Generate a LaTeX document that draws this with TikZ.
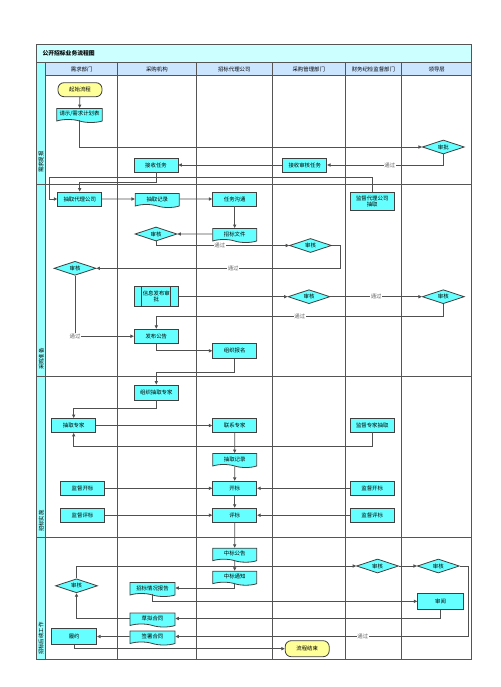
\documentclass[tikz,border=0pt]{standalone}
\usepackage{fontspec}
\setmainfont{Noto Sans CJK SC}
\usetikzlibrary{arrows.meta,positioning,shapes.geometric,shapes.symbols}
\definecolor{nodecyan}{HTML}{66FFFF}
\definecolor{termyellow}{HTML}{FFFF99}
\definecolor{edge}{HTML}{404040}
\definecolor{linegray}{HTML}{505050}
\definecolor{lanegray}{HTML}{555555}
\definecolor{titlefill}{HTML}{CCFFFF}
\definecolor{headfill}{HTML}{CCE5FF}
\definecolor{phasefill}{HTML}{99FFFF}
\definecolor{labelgray}{HTML}{666666}

\begin{document}
\begin{tikzpicture}[x=1pt,y=-1pt,font=\fontsize{5.4}{6.2}\selectfont,
box/.style={draw=edge,fill=nodecyan,minimum width=44pt,minimum height=14pt,inner sep=1pt,align=center,line width=0.8pt},
doc/.style={tape,tape bend top=none,tape bend bottom=out and in,tape bend height=3pt,draw=edge,fill=nodecyan,minimum width=44pt,minimum height=14pt,inner sep=1pt,line width=0.8pt},
dec/.style={diamond,aspect=3,draw=edge,fill=nodecyan,minimum width=42pt,minimum height=14pt,inner sep=0pt,line width=0.8pt},
term/.style={draw=edge,fill=termyellow,rounded corners=6pt,minimum width=44pt,minimum height=14pt,line width=0.8pt},
subproc/.style={box,minimum height=20pt,path picture={\draw[edge,line width=0.8pt] ([xshift=7.5pt]path picture bounding box.north west)--([xshift=7.5pt]path picture bounding box.south west) ([xshift=-7.5pt]path picture bounding box.north east)--([xshift=-7.5pt]path picture bounding box.south east);}},
arr/.style={-{Triangle[length=3.5pt,width=3.2pt]},draw=linegray,line width=0.85pt},
lbl/.style={fill=white,inner sep=0.5pt,text=labelgray},
lane/.style={draw=lanegray,line width=0.9pt}]
\useasboundingbox[fill=white] (0,0) rectangle (500,687);
\draw[lane,fill=titlefill] (36.7,44) rectangle (471.7,62.7);
\draw[lane,fill=phasefill] (36.7,62.7) rectangle (45.7,659);
\draw[lane,fill=headfill] (45.7,62.7) rectangle (471.7,75.3);
\draw[lane] (45.7,75.3) rectangle (471.7,659);
\foreach \x in {117.7,196,272.5,345,401.7} \draw[lane] (\x,62.7) -- (\x,659);
\foreach \y in {184,376,537} \draw[lane] (36.7,\y) -- (471.7,\y);
\node[anchor=west,font=\fontsize{5.8}{7}\selectfont\bfseries] (title) at (39,53.3) {公开招标业务流程图};
\node (h1) at (81.7,69) {需求部门};
\node (h2) at (156.85,69) {采购机构};
\node (h3) at (234.25,69) {招标代理公司};
\node (h4) at (308.75,69) {采购管理部门};
\node (h5) at (373.35,69) {财务纪检监督部门};
\node (h6) at (436.7,69) {领导层};
\node[rotate=90,anchor=west,inner sep=1pt] (p1) at (41.2,174) {需求提报};
\node[rotate=90,anchor=west,inner sep=1pt] (p2) at (41.2,371) {采购准备};
\node[rotate=90,anchor=west,inner sep=1pt] (p3) at (41.2,533) {招标实施};
\node[rotate=90,anchor=west,inner sep=1pt] (p4) at (41.2,656) {招标后续工作};

\node[term] (start) at (80,89.7) {起始流程};
\node[doc,minimum width=45.6pt] (plan) at (79.5,114) {请示/需求计划表};
\node[dec] (approve) at (443.3,147) {审批};
\node[box] (recvTask) at (156,165) {接收任务};
\node[box] (recvAudit) at (304.7,165) {接收审核任务};
\node[box] (pickAgent) at (79.7,199) {抽取代理公司};
\node[doc] (pickRec) at (157.3,199) {抽取记录};
\node[box] (taskComm) at (234.7,199) {任务沟通};
\node[box,minimum height=17.3pt] (supAgent) at (372.2,201.3) {监督代理公司\\抽取};
\node[doc] (bidDoc) at (234.7,234) {招标文件};
\node[dec] (chk1) at (156,234) {审核};
\node[dec] (chk2) at (310.5,245.5) {审核};
\node[dec] (chk3) at (75,268.3) {审核};
\node[subproc] (infoApp) at (156.3,296.7) {信息发布审\\批};
\node[dec] (chk4) at (309,296.7) {审核};
\node[dec] (chk5) at (443.3,296.7) {审核};
\node[box] (publish) at (156.3,336.2) {发布公告};
\node[box,minimum height=15pt] (signup) at (234.7,350.8) {组织报名};
\node[box,minimum height=15pt] (orgExp) at (156.3,392.5) {组织抽取专家};
\node[box] (pickExp) at (73.7,425.5) {抽取专家};
\node[box] (callExp) at (234.7,425.5) {联系专家};
\node[box] (supExp) at (372.2,425) {监督专家抽取};
\node[doc] (expRec) at (234.7,459) {抽取记录};
\node[box] (open) at (234.7,488.3) {开标};
\node[box] (supOpenL) at (82.5,488.3) {监督开标};
\node[box] (supOpenR) at (372.2,488.3) {监督开标};
\node[box] (eval) at (234.7,515.2) {评标};
\node[box] (supEvalL) at (82.5,515.2) {监督评标};
\node[box] (supEvalR) at (372.2,515.2) {监督评标};
\node[doc] (winPub) at (234.7,553.7) {中标公告};
\node[doc] (winNote) at (234.7,576.7) {中标通知};
\node[dec] (chk6) at (76.5,585.8) {审核};
\node[doc,minimum width=45pt] (report) at (152.5,588) {招标情况报告};
\node[dec] (chk7) at (377.5,566) {审核};
\node[dec] (chk8) at (438.3,566) {审核};
\node[box,minimum width=45.6pt,minimum height=16pt] (review) at (440.5,601.3) {审阅};
\node[doc,minimum width=45pt] (draft) at (152.5,618.5) {草拟合同};
\node[doc,minimum width=45pt] (sign) at (152.5,636.5) {签署合同};
\node[box,minimum width=45pt,minimum height=16pt] (perform) at (74.2,636.5) {履约};
\node[term,minimum height=16pt] (end) at (307.2,648.7) {流程结束};
\coordinate (j1) at (49,177.5);
\coordinate (j2) at (340.7,268.3);
\coordinate (j3) at (468.3,636.5);

\draw[arr] (start) -- (plan);
\draw[arr] (plan.south) |- (approve.west);
\draw[arr] (approve.south) |- node[lbl,pos=0.73]{通过} (recvAudit.east);
\draw[arr] (recvAudit) -- (recvTask);
\draw[arr] (recvTask.south) -- ++(0,10) -| (pickAgent.north);
\draw[arr] (supAgent.north) |- (j1) |- (pickAgent.west);
\draw[arr] (pickAgent) -- (pickRec);
\draw[arr] (pickRec) -- (taskComm);
\draw[arr] (taskComm) -- (bidDoc);
\draw[arr] (bidDoc) -- (chk1);
\draw[arr] (chk1.south) |- node[lbl,pos=0.74]{通过} (chk2.west);
\draw[arr] (chk2.east) -| (j2) -- node[lbl,pos=0.44]{通过} (chk3.east);
\draw[arr] (chk3.south) |- node[lbl,pos=0.5]{通过} (publish.west);
\draw[arr] (infoApp) -- (chk4);
\draw[arr] (chk4) -- node[lbl]{通过} (chk5);
\draw[arr] (chk5.south) -- ++(0,12.7) -| node[lbl,pos=0.25]{通过} (publish.north);
\draw[arr] (publish.south) |- (signup.west);
\draw[arr] (signup.south) -- ++(0,13.4) -| (orgExp.north);
\draw[arr] (orgExp.south) -- ++(0,8.3) -| (pickExp.north);
\draw[arr] (pickExp) -- (callExp);
\draw[arr] (supExp.south) -- ++(0,14) -| (pickExp.south);
\draw[arr] (callExp) -- (expRec);
\draw[arr] (expRec) -- (open);
\draw[arr] (open) -- (eval);
\draw[arr] (eval) -- (winPub);
\draw[arr] (winPub) -- (winNote);
\draw[arr] (supOpenL) -- (open);
\draw[arr] (supOpenR) -- (open);
\draw[arr] (supEvalL) -- (eval);
\draw[arr] (supEvalR) -- (eval);
\draw[arr] (winNote.south) |- (report.east);
\draw[arr] (chk6.north) |- (chk7.west);
\draw[arr] (chk7) -- (chk8);
\draw[arr] (chk8.east) -| (j3) -- node[lbl,pos=0.36]{通过} (sign.east);
\draw[arr] (report.south) |- (review.west);
\draw[arr] (review.south) |- (draft.east);
\draw[arr] (draft.west) -| (chk6.south);
\draw[arr] (sign) -- (perform);
\draw[arr] (perform.south) |- (end.west);
\end{tikzpicture}
\end{document}
